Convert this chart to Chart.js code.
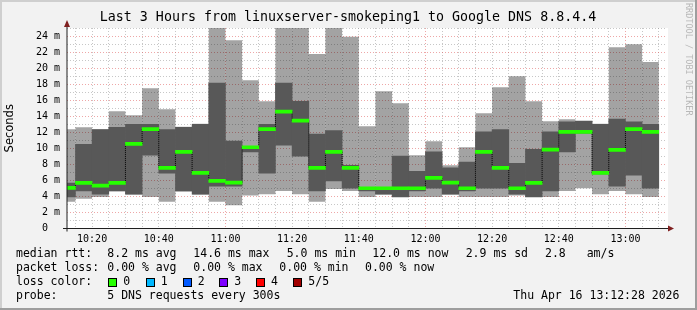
<!DOCTYPE html>
<html lang="en">
<head>
<meta charset="UTF-8">
<title>SmokePing - Google DNS 8.8.4.4</title>
<script src="https://cdn.jsdelivr.net/npm/chart.js@4"></script>
<style>
  html, body { margin: 0; padding: 0; background: #f2f2f2; }
  canvas { display: block; }
</style>
</head>
<body>
<canvas id="smoke" width="697" height="310"></canvas>
<script>
// graph window (last 3 hours)
const rangeStart = '10:12:28';
const rangeEnd = '13:12:28';

// end of each 5 minute step
const times = ['10:15', '10:20', '10:25', '10:30', '10:35', '10:40', '10:45', '10:50', '10:55',
  '11:00', '11:05', '11:10', '11:15', '11:20', '11:25', '11:30', '11:35', '11:40', '11:45',
  '11:50', '11:55', '12:00', '12:05', '12:10', '12:15', '12:20', '12:25', '12:30', '12:35',
  '12:40', '12:45', '12:50', '12:55', '13:00', '13:05', '13:10'];

// 5 pings per step, sorted, in ms
const pingMin = [3.32, 3.70, 3.94, 4.65, 4.25, 3.94, 3.32, 4.62, 4.25, 3.32, 2.91, 4.10,
  4.28, 4.69, 4.28, 3.32, 4.94, 4.69, 3.94, 4.25, 3.94, 3.94, 3.94, 4.25, 3.94, 3.94,
  3.94, 4.10, 3.94, 3.94, 4.69, 5.02, 4.28, 4.69, 4.28, 3.94];
const pingLow = [3.94, 4.69, 4.28, 4.69, 4.28, 9.14, 6.90, 4.69, 4.28, 5.27, 5.27, 9.55,
  6.90, 10.39, 9.03, 4.69, 5.94, 5.02, 4.69, 4.28, 3.94, 4.69, 5.02, 4.28, 4.69, 5.02,
  5.02, 4.28, 3.94, 4.69, 9.55, 11.90, 6.80, 5.27, 6.65, 5.02];
const median = [5.07, 5.69, 5.35, 5.69, 10.55, 12.38, 7.56, 9.55, 6.94, 5.94, 5.73, 10.13,
  12.38, 14.58, 13.46, 7.56, 9.55, 7.56, 5.02, 5.02, 5.02, 5.02, 6.31, 5.73, 5.02, 9.55,
  7.56, 5.02, 5.69, 9.84, 12.05, 12.05, 6.94, 9.80, 12.38, 12.05];
const pingHigh = [5.65, 10.51, 12.33, 12.63, 13.00, 13.00, 12.33, 12.60, 13.00, 18.12, 10.89, 10.20,
  13.00, 18.12, 15.87, 11.76, 12.21, 7.89, 5.10, 5.10, 9.03, 7.14, 9.55, 7.56, 8.27, 12.05,
  12.33, 8.14, 9.88, 12.05, 13.30, 13.38, 13.00, 13.63, 13.30, 13.00];
const pingMax = [12.38, 12.63, 12.38, 14.63, 14.13, 17.49, 14.87, 12.70, 13.05, 25.50, 23.48, 18.49,
  15.87, 25.50, 25.50, 21.77, 25.50, 23.90, 12.75, 17.12, 15.62, 9.14, 10.89, 7.89, 10.13, 14.37,
  17.62, 18.99, 15.87, 13.38, 13.63, 13.40, 13.05, 22.60, 22.97, 20.77];

// labelled x ticks
const timeLabels = ['10:20', '10:40', '11:00', '11:20', '11:40', '12:00', '12:20', '12:40', '13:00'];

// legend
const statsRtt = ['8.2 ms avg', '14.6 ms max', '5.0 ms min', '12.0 ms now', '2.9 ms sd', '2.8', 'am/s'];
const statsLoss = ['0.00 % avg', '0.00 % max', '0.00 % min', '0.00 % now'];
const lossLabels = ['0', '1', '2', '3', '4', '5/5'];
const probeText = '5 DNS requests every 300s';
const stampText = 'Thu Apr 16 13:12:28 2026';

const lossColors = ['#26ff00', '#00b8ff', '#0059ff', '#7e00ff', '#ff0000', '#a10000'];
const MONO = "'DejaVu Sans Mono', monospace";

function toMin(s) {
    const [h, m, sec = 0] = s.split(':').map(Number);
    return h * 60 + m + sec / 60;
}
const pad2 = n => String(n).padStart(2, '0');

const ends = times.map(toMin);
const centers = ends.map(t => t - 2.5);
const MED_HALF = 0.19;

// vertical connectors between consecutive medians, broken by nulls
const connectors = [];
for (let i = 0; i + 1 < median.length; i++) {
    connectors.push({ x: ends[i], y: median[i] }, { x: ends[i], y: median[i + 1] }, { x: ends[i], y: null });
}

const barBase = { type: 'bar', grouped: false, barPercentage: 1, categoryPercentage: 1, borderWidth: 0, clip: 0 };

const datasets = [
    { ...barBase, label: 'outer', order: 4, backgroundColor: 'rgba(0,0,0,0.36)', inflateAmount: 0,
      data: centers.map((x, i) => ({ x, y: [pingMin[i], pingMax[i]] })) },
    { ...barBase, label: 'inner', order: 3, backgroundColor: '#585858',
      data: centers.map((x, i) => ({ x, y: [pingLow[i], pingHigh[i]] })) },
    { type: 'line', label: 'steps', order: 2, clip: 0, spanGaps: false,
      borderColor: '#000', borderWidth: 1, borderDash: [1, 1], pointRadius: 0, fill: false,
      data: connectors },
    { ...barBase, label: 'median', order: 1, backgroundColor: lossColors[0],
      data: centers.map((x, i) => ({ x, y: [median[i] - MED_HALF, median[i] + MED_HALF] })) }
];

const frame = {
    id: 'frame',
    beforeDraw(chart) {
        const { ctx, chartArea: a, width: w, height: h } = chart;
        ctx.save();
        ctx.fillStyle = '#f2f2f2';
        ctx.fillRect(0, 0, w, h);
        ctx.fillStyle = '#cfcfcf';
        ctx.fillRect(0, 0, w, 2);
        ctx.fillRect(0, 0, 2, h);
        ctx.fillStyle = '#9e9e9e';
        ctx.fillRect(0, h - 2, w, 2);
        ctx.fillRect(w - 2, 0, 2, h);
        ctx.fillStyle = '#fff';
        ctx.fillRect(a.left, a.top, a.right - a.left + 1, a.bottom - a.top);
        ctx.restore();
    },
    afterDraw(chart) {
        const { ctx, chartArea: a } = chart;
        ctx.save();
        // axes
        ctx.strokeStyle = '#1f1f1f';
        ctx.lineWidth = 1;
        ctx.beginPath();
        ctx.moveTo(a.left, a.bottom + 3);
        ctx.lineTo(a.left, 22);
        ctx.moveTo(a.left - 4, a.bottom);
        ctx.lineTo(a.right + 4, a.bottom);
        ctx.stroke();
        // arrows
        ctx.fillStyle = '#802020';
        ctx.beginPath();
        ctx.moveTo(a.left - 3, 27);
        ctx.lineTo(a.left + 3, 27);
        ctx.lineTo(a.left, 20);
        ctx.closePath();
        ctx.fill();
        ctx.beginPath();
        ctx.moveTo(a.right + 1, a.bottom - 3);
        ctx.lineTo(a.right + 1, a.bottom + 3);
        ctx.lineTo(a.right + 7, a.bottom);
        ctx.closePath();
        ctx.fill();

        // title
        ctx.fillStyle = '#000';
        ctx.textBaseline = 'middle';
        ctx.textAlign = 'center';
        ctx.font = '13.3px ' + MONO;
        ctx.fillText('Last 3 Hours from linuxserver-smokeping1 to Google DNS 8.8.4.4', 348, 18);

        // watermark
        ctx.save();
        ctx.translate(688, 3);
        ctx.rotate(Math.PI / 2);
        ctx.textAlign = 'left';
        ctx.fillStyle = '#b8b8b8';
        ctx.font = '8.5px ' + MONO;
        ctx.fillText('RRDTOOL / TOBI OETIKER', 0, 0);
        ctx.restore();

        // legend
        ctx.textAlign = 'left';
        ctx.font = '11.5px ' + MONO;
        ctx.fillStyle = '#000';
        const rows = [254.3, 268.3, 282.3, 296.3];
        ctx.fillText('median rtt:', 16, rows[0]);
        [107.3, 193.3, 286.7, 372.3, 465.7, 545, 586.7].forEach((x, i) => ctx.fillText(statsRtt[i], x, rows[0]));
        ctx.fillText('packet loss:', 16, rows[1]);
        [107.3, 193.3, 279.3, 365].forEach((x, i) => ctx.fillText(statsLoss[i], x, rows[1]));
        ctx.fillText('loss color:', 16, rows[2]);
        [108.3, 145.7, 182.7, 219.3, 256, 293.3].forEach((x, i) => {
            ctx.fillStyle = lossColors[i];
            ctx.fillRect(Math.round(x), 278, 8, 9);
            ctx.strokeStyle = '#000';
            ctx.strokeRect(Math.round(x) + 0.5, 278.5, 8, 8);
            ctx.fillStyle = '#000';
            ctx.fillText(lossLabels[i], x + 15, rows[2]);
        });
        ctx.fillText('probe:', 16, rows[3]);
        ctx.fillText(probeText, 107.3, rows[3]);
        ctx.fillText(stampText, 513.3, rows[3]);
        ctx.restore();
    }
};

const minorGrid = 'rgba(143,143,143,0.5)';
const majorGrid = 'rgba(222,79,79,0.5)';

new Chart(document.getElementById('smoke'), {
    type: 'bar',
    data: { datasets },
    options: {
        responsive: false,
        animation: false,
        events: [],
        layout: { padding: { top: 28, right: 30, bottom: 61.5, left: 0 } },
        plugins: { legend: { display: false }, tooltip: { enabled: false } },
        scales: {
            x: {
                type: 'linear',
                offset: false,
                min: toMin(rangeStart),
                max: toMin(rangeEnd),
                afterBuildTicks: ax => { ax.ticks = ends.map(v => ({ value: v })); },
                afterFit: ax => { ax.height = 20; },
                ticks: {
                    autoSkip: false, maxRotation: 0, padding: 5, color: '#000',
                    font: { family: MONO, size: 10 },
                    callback: v => {
                        const s = Math.floor(v / 60) + ':' + pad2(Math.round(v % 60));
                        return timeLabels.includes(s) ? s : '';
                    }
                },
                grid: {
                    drawTicks: false, lineWidth: 1, offset: false,
                    color: c => (c.tick && Math.round(c.tick.value) % 60 === 0) ? majorGrid : minorGrid
                },
                border: { display: false, dash: [1, 2] }
            },
            y: {
                min: 0,
                max: 25,
                afterFit: ax => { ax.width = 67; },
                ticks: {
                    stepSize: 1, autoSkip: false, padding: 7, color: '#000',
                    font: { family: MONO, size: 10 },
                    callback: v => v === 0 ? '0  ' : (v % 2 === 0 ? v + ' m' : '')
                },
                title: {
                    display: true, text: 'Seconds', color: '#000',
                    font: { family: "'DejaVu Sans', sans-serif", size: 11.5 },
                    padding: { top: 3, bottom: 0 }
                },
                grid: {
                    drawTicks: false, lineWidth: 1,
                    color: c => (c.tick && c.tick.value % 2 === 0) ? majorGrid : minorGrid
                },
                border: { display: false, dash: [1, 2] }
            }
        }
    },
    plugins: [frame]
});
</script>
</body>
</html>
